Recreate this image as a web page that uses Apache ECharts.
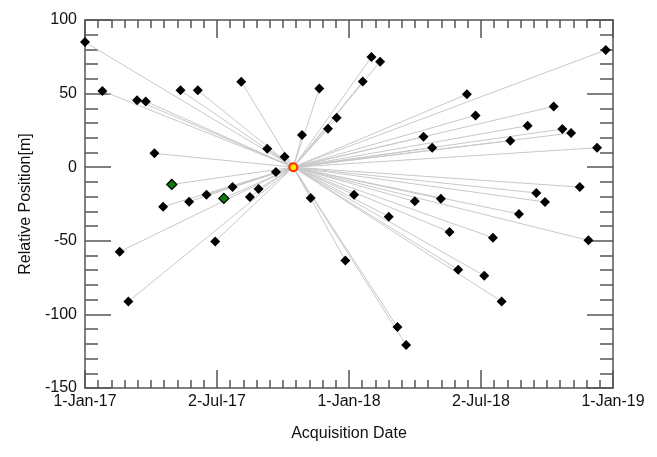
<!DOCTYPE html>
<html>
<head>
<meta charset="utf-8">
<script src="https://cdn.jsdelivr.net/npm/echarts@6/dist/echarts.min.js"></script>
<style>
html, body { margin: 0; padding: 0; background: #fff; }
#chart { width: 657px; height: 457px; }
</style>
</head>
<body>
<div id="chart"></div>
<script>
// acquisition day, counted from 1-Jan-17
var acqDays = [0, 24, 48, 60, 72, 84, 96, 108, 120, 132, 144, 156, 168, 180, 192, 204, 216, 228, 240, 252, 264, 276,
    300, 312, 324, 336, 348, 360, 372, 384, 396, 408, 420, 432, 444, 456, 468, 480, 492, 504, 516, 528, 540, 552,
    564, 576, 588, 600, 612, 624, 636, 648, 660, 672, 684, 696, 708, 720]
// relative position [m]
var relPos = [85, 51.8, -57.4, -91.2, 45.4, 44.7, 9.4, -26.8, -11.7, 52.2, -23.4, 52.2, -18.7, -50.4, -21.2, -13.5, 58.1, -20.2, -14.8, 12.6, -3.3, 7.1,
    21.9, -20.9, 53.5, 26.2, 33.6, -63.3, -18.7, 58.3, 74.9, 71.7, -33.6, -108.6, -120.8, -23.2, 20.7, 13.2, -21.4, -44, -69.6, 49.5, 35.2, -73.7,
    -47.9, -91.2, 18, -31.8, 28.2, -17.5, -23.6, 41.3, 25.9, 23.2, -13.5, -49.7, 13.2, 79.6]
var greenDays = [120, 192]
var masterDay = 288
var masterPos = 0

var months = ['Jan', 'Feb', 'Mar', 'Apr', 'May', 'Jun', 'Jul', 'Aug', 'Sep', 'Oct', 'Nov', 'Dec']
function dayLabel(v) {
    var d = new Date(Date.UTC(2017, 0, 1) + v * 86400000)
    return d.getUTCDate() + '-' + months[d.getUTCMonth()] + '-' + String(d.getUTCFullYear()).slice(2)
}

var font = '"Liberation Sans", Arial, sans-serif'
var axisColor = '#555'

var blackPts = []
var greenPts = []
var links = []
for (var i = 0; i < acqDays.length; i++) {
    var p = [acqDays[i], relPos[i]]
    if (greenDays.indexOf(acqDays[i]) >= 0) greenPts.push(p)
    else blackPts.push(p)
    links.push({ coords: [[masterDay, masterPos], p] })
}

function xAxisCfg(pos, showLabel) {
    return {
        type: 'value', position: pos, min: 0, max: 730, interval: 182.5,
        name: showLabel ? 'Acquisition Date' : '', nameLocation: 'middle', nameGap: 38,
        nameTextStyle: { fontFamily: font, fontSize: 16, color: '#111' },
        axisLine: { show: true, onZero: false, lineStyle: { color: axisColor, width: 1.5 } },
        axisTick: { show: true, inside: true, length: 18, lineStyle: { color: axisColor, width: 1.5 } },
        minorTick: { show: true, splitNumber: 10, length: 8, lineStyle: { color: axisColor, width: 1.5 } },
        axisLabel: { show: showLabel, margin: 6, fontFamily: font, fontSize: 16, color: '#111', formatter: dayLabel },
        splitLine: { show: false }
    }
}
function yAxisCfg(pos, showLabel) {
    return {
        type: 'value', position: pos, min: -150, max: 100, interval: 50,
        name: showLabel ? 'Relative Position[m]' : '', nameLocation: 'middle', nameGap: 50,
        nameTextStyle: { fontFamily: font, fontSize: 16, color: '#111' },
        axisLine: { show: true, onZero: false, lineStyle: { color: axisColor, width: 1.5 } },
        axisTick: { show: true, inside: true, length: 26, lineStyle: { color: axisColor, width: 1.5 } },
        minorTick: { show: true, splitNumber: 5, length: 13, lineStyle: { color: axisColor, width: 1.5 } },
        axisLabel: { show: showLabel, margin: 8, fontFamily: font, fontSize: 16, color: '#111' },
        splitLine: { show: false }
    }
}

var chart = echarts.init(document.getElementById('chart'), null, { renderer: 'canvas' })
chart.setOption({
    animation: false,
    grid: { left: 85, right: 44, top: 20, bottom: 69, containLabel: false },
    xAxis: [xAxisCfg('bottom', true), xAxisCfg('top', false)],
    yAxis: [yAxisCfg('left', true), yAxisCfg('right', false)],
    series: [
        {
            type: 'lines', coordinateSystem: 'cartesian2d', data: links, z: 1,
            lineStyle: { color: '#c8c8c8', width: 1, opacity: 1 }, silent: true
        },
        {
            type: 'scatter', data: blackPts, symbol: 'diamond', symbolSize: 10, z: 3,
            itemStyle: { color: '#000', opacity: 1 }
        },
        {
            type: 'scatter', data: greenPts, symbol: 'diamond', symbolSize: 10, z: 3,
            itemStyle: { color: '#0a7d0a', borderColor: '#000', borderWidth: 1.3, opacity: 1 }
        },
        {
            type: 'scatter', data: [[masterDay, masterPos]], symbol: 'circle', symbolSize: 8, z: 4,
            itemStyle: { color: '#ffe600', borderColor: '#ff2a00', borderWidth: 2, opacity: 1 }
        }
    ]
})
</script>
</body>
</html>
